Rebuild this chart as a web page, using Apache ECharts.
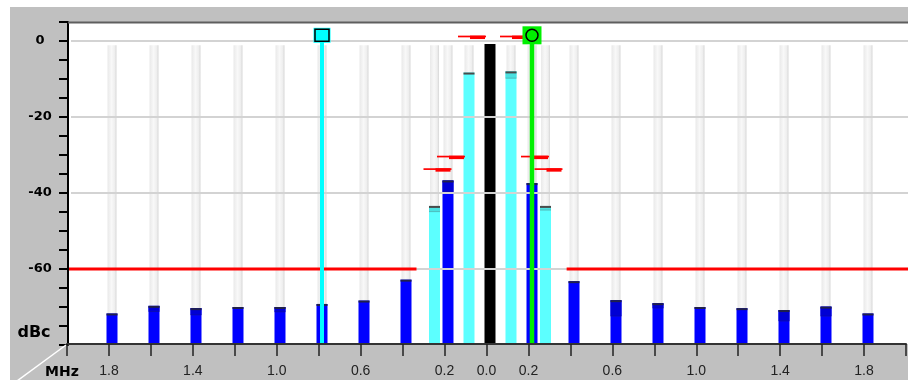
<!DOCTYPE html>
<html><head><meta charset="utf-8">
<script src="https://cdn.jsdelivr.net/npm/echarts@6/dist/echarts.min.js"></script>
<style>html,body{margin:0;padding:0;background:#fff}#c{width:908px;height:380px}</style>
</head><body><div id="c"></div>
<script>
// ---------- data ----------
const offsetsMHz = [-1.8,-1.6,-1.4,-1.2,-1.0,-0.8,-0.6,-0.4,-0.25,-0.2,-0.1,0,0.1,0.2,0.25,0.4,0.6,0.8,1.0,1.2,1.4,1.6,1.8];
const barKinds   = ['blue','blue','blue','blue','blue','blue','blue','blue','cyan','blue','cyan','carrier','cyan','blue','cyan','blue','blue','blue','blue','blue','blue','blue','blue'];
const peakLevels = [-71.7,-69.7,-70.3,-70.0,-70.0,-69.2,-68.3,-62.8,-43.4,-36.7,-8.3,-0.8,-8.0,-37.4,-43.4,-63.2,-68.2,-69.0,-70.0,-70.3,-70.8,-69.9,-71.7];
const avgLevels  = [null,-71.2,-72.1,null,-71.3,null,null,null,-44.9,-39.7,null,null,-9.8,null,-44.5,null,-72.4,-70.3,null,null,-73.7,-72.4,null];
const limitOffsets = [-0.25,-0.2,-0.1,0.1,0.2,0.25];
const limitLevels  = [-33.7,-30.4,1.2,1.2,-30.4,-33.7];
const maskLevel = -60;
const maskGap = [-0.35, 0.365];
const markerOffsets = [-0.8, 0.2];
const markerLevel = 1.5;
const gridValues = [0,-20,-40,-60];
const xTickValues = [-1.8,-1.4,-1.0,-0.6,-0.2,0,0.2,0.6,1.0,1.4,1.8];
const xTickLabels = ['1.8','1.4','1.0','0.6','0.2','0.0','0.2','0.6','1.0','1.4','1.8'];
const yTickValues = [0,-20,-40,-60];
const yTickLabels = ['0','-20','-40','-60'];

// ---------- styles ----------
const Y_MIN = -80, Y_MAX = 5, COL_TOP = -1.1;
const X_MIN = -2.0095, X_MAX = 1.9905;
const BAR_W = 11;
const KIND_STYLE = {
  blue:    {fill:'#0000ff', band:'#0000d4', cap:'#20204a'},
  cyan:    {fill:'#5cffff', band:'#4ae0e0', cap:'#4a4a4a'},
  carrier: {fill:'#000000', band:'#000000', cap:null}
};
const MARKER_STYLE = [
  {color:'#00ffff', shape:'square', lineW:4},
  {color:'#00f000', shape:'circle', lineW:4.5}
];
function shiftPx(off){ return Math.abs(Math.abs(off) - 0.25) < 1e-9 ? (off < 0 ? -3 : 3) : 0; }
function labelFor(vals, labels, v){
  for (let i = 0; i < vals.length; i++) if (Math.abs(vals[i] - v) < 1e-6) return labels[i];
  return '';
}
const colGrad = new echarts.graphic.LinearGradient(0,0,1,0,[
  {offset:0,color:'#e9e9e9'},{offset:0.45,color:'#f8f8f8'},{offset:0.8,color:'#eeeeee'},{offset:1,color:'#d6d6d6'}]);

const chart = echarts.init(document.getElementById('c'), null, {renderer:'canvas'});
const barData = offsetsMHz.map((o,i)=>[o, peakLevels[i]]);

chart.setOption({
  animation:false,
  graphic:[
    {type:'rect', z:-20, silent:true, shape:{x:10,y:7,width:898,height:373}, style:{fill:'#c0c0c0'}},
    {type:'rect', z:-19, silent:true, shape:{x:68,y:22,width:840,height:322}, style:{fill:'#ffffff'}},
    {type:'line', z:50, silent:true, shape:{x1:68,y1:22.5,x2:908,y2:22.5}, style:{stroke:'#5e5e5e',lineWidth:2}},
    {type:'line', z:50, silent:true, shape:{x1:66,y1:345,x2:17,y2:381}, style:{stroke:'#ffffff',lineWidth:1.5}},
    {type:'text', z:50, silent:true, x:34, y:333, style:{text:'dBc', font:'bold 16px "DejaVu Sans"', fill:'#000', align:'center', verticalAlign:'middle', textAlign:'center', textVerticalAlign:'middle'}},
    {type:'text', z:50, silent:true, x:62, y:372, style:{text:'MHz', font:'bold 14px "DejaVu Sans"', fill:'#000', align:'center', verticalAlign:'middle', textAlign:'center', textVerticalAlign:'middle'}}
  ],
  grid:[
    {left:68, right:0, top:22, bottom:35, show:false, containLabel:false, outerBoundsMode:'none'},
    {left:67, right:2, top:22, bottom:36, show:false, containLabel:false, outerBoundsMode:'none'}
  ],
  xAxis:[
    {gridIndex:0, type:'value', min:X_MIN, max:X_MAX, show:false},
    {gridIndex:1, type:'value', min:-2, max:2, interval:0.2, z:10,
     axisLine:{show:true, onZero:false, lineStyle:{color:'#333',width:2}},
     axisTick:{show:true, inside:false, length:12, lineStyle:{color:'#222',width:1.5}},
     axisLabel:{show:true, margin:20, fontFamily:'Liberation Sans', fontSize:14, color:'#222',
       formatter:v=>labelFor(xTickValues,xTickLabels,v)},
     splitLine:{show:false}}
  ],
  yAxis:[
    {gridIndex:0, type:'value', min:Y_MIN, max:Y_MAX, interval:5, z:10,
     axisLine:{show:true, onZero:false, lineStyle:{color:'#000',width:2}},
     axisTick:{show:true, inside:false, length:9, lineStyle:{color:'#000',width:2}},
     axisLabel:{show:true, margin:28, align:'center', fontFamily:'DejaVu Sans', fontWeight:'bold', fontSize:13, color:'#000',
       formatter:v=>labelFor(yTickValues,yTickLabels,v)},
     splitLine:{show:false}},
    {gridIndex:1, type:'value', min:0, max:1, show:false}
  ],
  series:[
    {type:'custom', name:'range', xAxisIndex:0, yAxisIndex:0, z:1, silent:true, data:barData,
     renderItem:(params, api)=>{
       const off = api.value(0);
       const top = api.coord([off, COL_TOP]);
       const bot = api.coord([off, Y_MIN]);
       const cx = top[0] + shiftPx(off);
       return {type:'rect', shape:{x:cx-BAR_W/2+1, y:top[1], width:BAR_W-2, height:bot[1]-top[1]}, style:{fill:colGrad}};
     }},
    {type:'custom', name:'levels', xAxisIndex:0, yAxisIndex:0, z:2, silent:true, data:barData,
     renderItem:(params, api)=>{
       const i = params.dataIndex;
       const off = api.value(0);
       const p = api.coord([off, api.value(1)]);
       const bot = api.coord([off, Y_MIN])[1];
       const cx = p[0] + shiftPx(off);
       const x0 = cx - BAR_W/2;
       const st = KIND_STYLE[barKinds[i]];
       const ch = [{type:'rect', shape:{x:x0,y:p[1],width:BAR_W,height:bot-p[1]}, style:{fill:st.fill}}];
       if (avgLevels[i] !== null) {
         const ya = api.coord([off, avgLevels[i]])[1];
         ch.push({type:'rect', shape:{x:x0,y:p[1],width:BAR_W,height:ya-p[1]}, style:{fill:st.band}});
         ch.push({type:'rect', shape:{x:x0,y:ya-0.5,width:BAR_W,height:1}, style:{fill:st.cap||'#000', opacity:0.3}});
       }
       if (st.cap) ch.push({type:'rect', shape:{x:x0,y:p[1],width:BAR_W,height:2}, style:{fill:st.cap}});
       return {type:'group', children:ch};
     }},
    {type:'custom', name:'grid', xAxisIndex:0, yAxisIndex:0, z:3, silent:true, data:gridValues.map(v=>[0,v]),
     renderItem:(params, api)=>{
       const a = api.coord([X_MIN, api.value(1)]);
       const b = api.coord([X_MAX, api.value(1)]);
       return {type:'line', shape:{x1:a[0]+3,y1:a[1],x2:b[0],y2:b[1]}, style:{stroke:'#d3d3d3', lineWidth:2}};
     }},
    {type:'line', name:'maskL', xAxisIndex:0, yAxisIndex:0, z:4, silent:true, symbol:'none',
     lineStyle:{color:'#ff0000', width:3}, data:[[X_MIN,maskLevel],[maskGap[0],maskLevel]]},
    {type:'line', name:'maskR', xAxisIndex:0, yAxisIndex:0, z:4, silent:true, symbol:'none',
     lineStyle:{color:'#ff0000', width:3}, data:[[maskGap[1],maskLevel],[X_MAX,maskLevel]]},
    {type:'custom', name:'limits', xAxisIndex:0, yAxisIndex:0, z:5, silent:true,
     data:limitOffsets.map((o,i)=>[o, limitLevels[i]]),
     renderItem:(params, api)=>{
       const off = api.value(0);
       const p = api.coord([off, api.value(1)]);
       const cx = p[0] + shiftPx(off), y = p[1];
       return {type:'group', children:[
         {type:'rect', shape:{x:cx-11, y:y-0.8, width:28, height:1.7}, style:{fill:'#ff0000'}},
         {type:'rect', shape:{x:cx+1, y:y-0.8, width:15, height:3.4}, style:{fill:'#ff0000'}}
       ]};
     }},
    {type:'custom', name:'markers', xAxisIndex:0, yAxisIndex:0, z:6, silent:true,
     data:markerOffsets.map(o=>[o, markerLevel]),
     renderItem:(params, api)=>{
       const i = params.dataIndex;
       const ms = MARKER_STYLE[i];
       const off = api.value(0);
       const p = api.coord([off, api.value(1)]);
       const bot = api.coord([off, Y_MIN])[1];
       const cx = p[0], cy = p[1];
       const ch = [{type:'rect', shape:{x:cx-ms.lineW/2, y:cy, width:ms.lineW, height:bot-2-cy}, style:{fill:ms.color}}];
       if (ms.shape === 'square') {
         ch.push({type:'rect', shape:{x:cx-8.5,y:cy-7.5,width:17,height:15}, style:{fill:ms.color}});
         ch.push({type:'rect', shape:{x:cx-7,y:cy-6,width:14,height:12}, style:{fill:ms.color, stroke:'#000', lineWidth:1.5}});
       } else {
         ch.push({type:'rect', shape:{x:cx-9.5,y:cy-9,width:19,height:18}, style:{fill:ms.color}});
         ch.push({type:'circle', shape:{cx:cx, cy:cy, r:6}, style:{fill:'none', stroke:'#000', lineWidth:1.5}});
       }
       return {type:'group', children:ch};
     }}
  ]
});
</script>
</body></html>
